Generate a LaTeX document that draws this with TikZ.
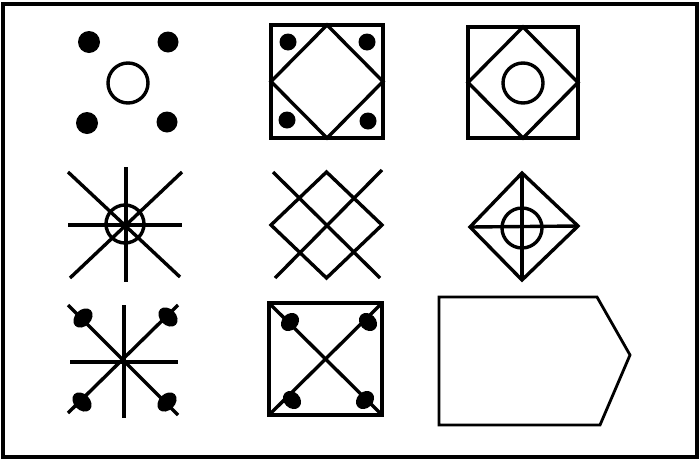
\documentclass[tikz,border=0pt]{standalone}
\begin{document}
\begin{tikzpicture}[x=1pt,y=-1pt,line join=miter,
  ln/.style={line width=3.4pt},
  sq/.style={line width=4pt}]
\useasboundingbox (0,0) rectangle (700,461);
\draw[line width=4pt] (2.5,3.5) rectangle (697,457);

% panel 1
\fill (89,42) circle (11);
\fill (168,42) circle (10.5);
\fill (87,123) circle (11);
\fill (167,122) circle (10.5);
\draw[ln] (128,83) circle (20);

% panel 2
\draw[sq] (271,25) rectangle (383,138);
\draw[ln] (327,25) -- (383,81.5) -- (327,138) -- (271,81.5) -- cycle;
\fill (288,42) circle (8.5);
\fill (367,42) circle (8.5);
\fill (287,120) circle (8.5);
\fill (368,121) circle (8.5);

% panel 3
\draw[sq] (468,27) rectangle (578,138);
\draw[ln] (523,27) -- (578,82.5) -- (523,138) -- (468,82.5) -- cycle;
\draw[ln] (523,83) circle (20);

% panel 4
\draw[ln] (126,167) -- (126,282);
\draw[line width=4pt] (68,225) -- (182,225);
\draw[ln] (68,172) -- (180,277);
\draw[ln] (182,172) -- (70,278);
\draw[ln] (125,224) circle (19);

% panel 5
\draw[ln] (326.5,172) -- (382,225) -- (326.5,278) -- (271,225) -- cycle;
\draw[ln] (273,172) -- (380,278);
\draw[ln] (382,170) -- (275,278);

% panel 6
\draw[ln] (522,173) -- (578,226) -- (522,280) -- (470,227) -- cycle;
\draw[ln] (522,173) -- (522,280);
\draw[ln] (470,227) -- (578,226);
\draw[ln] (522,228) circle (20);

% panel 7
\draw[ln] (124,305) -- (124,418);
\draw[ln] (70,362) -- (178,362);
\draw[ln] (68,305) -- (178,415);
\draw[ln] (178,305) -- (68,413);
\fill[rotate around={45:(83,318)}] (83,318) ellipse (11 and 8);
\fill[rotate around={-45:(168,317)}] (168,317) ellipse (11 and 8);
\fill[rotate around={-45:(82,402)}] (82,402) ellipse (11 and 8);
\fill[rotate around={45:(167,402)}] (167,402) ellipse (11 and 8);

% panel 8
\draw[sq] (269,303) rectangle (382,415);
\draw[ln] (269,303) -- (382,415);
\draw[ln] (382,303) -- (269,415);
\fill[rotate around={45:(290,322)}] (290,322) ellipse (10 and 8);
\fill[rotate around={-45:(368,322)}] (368,322) ellipse (10 and 8);
\fill[rotate around={-45:(292,400)}] (292,400) ellipse (10 and 8);
\fill[rotate around={45:(365,400)}] (365,400) ellipse (10 and 8);

% panel 9
\draw[line width=2.8pt] (439,297) -- (597,297) -- (630,355) -- (600,425) -- (439,425) -- cycle;
\end{tikzpicture}
\end{document}
